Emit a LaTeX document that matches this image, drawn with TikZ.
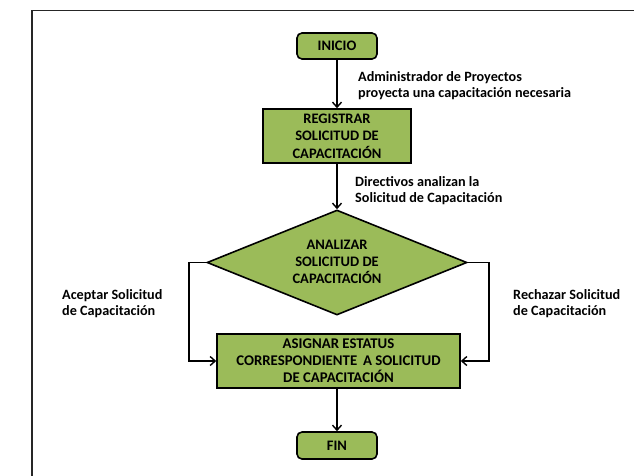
\documentclass[tikz,border=0pt]{standalone}
\usepackage{fontspec}
\setmainfont{Carlito}
\usetikzlibrary{arrows.meta,shapes.geometric}
\definecolor{boxgreen}{RGB}{155,187,89}
\tikzset{
  box/.style={draw=black, line width=1.6pt, fill=boxgreen, align=center,
    font=\bfseries\fontsize{14.5}{17.5}\selectfont, inner sep=0pt},
  terminal/.style={box, rounded corners=5pt},
  note/.style={align=left, font=\bfseries\fontsize{14.2}{16}\selectfont, inner sep=0pt, anchor=west},
  flow/.style={draw=black, line width=1.4pt, -{Straight Barb[length=5pt,width=9pt,line width=1.4pt]}},
}
\begin{document}
\begin{tikzpicture}[x=1pt,y=-1pt]
  \useasboundingbox (0,0) rectangle (634,475);
  % outer frame (only top and left edges fall inside the page)
  \draw[line width=1.3pt, black!85] (634,10.5) -- (32,10.5) -- (32,476);

  \node[terminal, minimum width=80pt, minimum height=26pt] (inicio) at (337,46) {INICIO};
  \node[box, minimum width=148pt, minimum height=54pt] (registrar) at (337,136)
    {REGISTRAR\\SOLICITUD DE\\CAPACITACIÓN};
  \node[draw=black, line width=1.6pt, fill=boxgreen, inner sep=0pt,
    shape=diamond, minimum width=260pt, minimum height=105pt] (analizar) at (337,262.5) {};
  \node[align=center, font=\bfseries\fontsize{14.5}{17}\selectfont] (analizartext) at (337,262)
    {ANALIZAR\\SOLICITUD DE\\CAPACITACIÓN};
  \node[box, minimum width=243pt, minimum height=54pt, font=\bfseries\fontsize{14.8}{17}\selectfont] (asignar) at (338.5,361)
    {ASIGNAR ESTATUS\\CORRESPONDIENTE \,A SOLICITUD\\DE CAPACITACIÓN};
  \node[terminal, minimum width=80pt, minimum height=27pt] (fin) at (337,445.5) {FIN};

  \coordinate (lcorner1) at (189,262.5);
  \coordinate (lcorner2) at (189,361);
  \coordinate (rcorner1) at (489,262.5);
  \coordinate (rcorner2) at (489,361);

  \draw[flow] (inicio) -- (registrar);
  \draw[flow] (registrar) -- (analizar.north);
  \draw[flow] (analizar.west) -- (lcorner1) -- (lcorner2) -- (asignar.west);
  \draw[flow] (analizar.east) -- (rcorner1) -- (rcorner2) -- (asignar.east);
  \draw[flow] (asignar.south -| fin.north) -- (fin.north);

  \node[note] (n1) at (358,86) {Administrador de Proyectos\\proyecta una capacitación necesaria};
  \node[note] (n2) at (355,190.5) {Directivos analizan la\\Solicitud de Capacitación};
  \node[note] (n3) at (62,304) {Aceptar Solicitud\\de Capacitación};
  \node[note] (n4) at (513,304) {Rechazar Solicitud\\de Capacitación};
\end{tikzpicture}
\end{document}
